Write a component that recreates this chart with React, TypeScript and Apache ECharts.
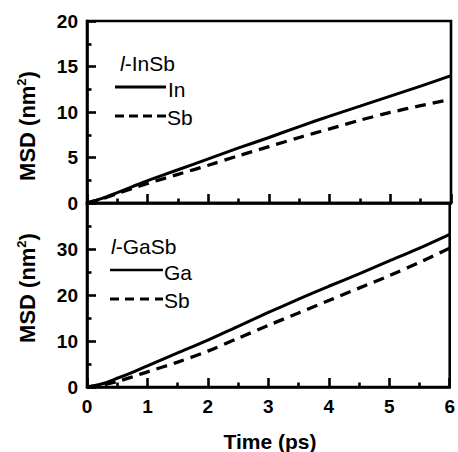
import React, { useEffect, useRef } from "react";
import * as echarts from "echarts";

const times = [0, 0.25, 0.5, 0.75, 1, 1.5, 2, 2.5, 3, 3.5, 4, 4.5, 5, 5.5, 6];
const inSbIn = [0, 0.5, 1.15, 1.8, 2.45, 3.65, 4.85, 6.05, 7.2, 8.4, 9.55, 10.65, 11.75, 12.85, 14.0];
const inSbSb = [0, 0.45, 1.05, 1.6, 2.15, 3.15, 4.15, 5.2, 6.2, 7.2, 8.15, 9.1, 9.95, 10.7, 11.4];
const gaSbGa = [0, 0.7, 1.9, 3.2, 4.6, 7.4, 10.2, 13.2, 16.2, 19.1, 21.9, 24.6, 27.4, 30.2, 33.2];
const gaSbSb = [0, 0.4, 1.2, 2.2, 3.3, 5.4, 7.8, 10.6, 13.4, 16.1, 18.8, 21.5, 24.2, 27.1, 30.2];

const xTicks = { min: 0, max: 6, interval: 1 };
const topY = { min: 0, max: 20, interval: 5 };
const botY = { min: 0, max: 40, interval: 10 };

const FONT = "'Liberation Sans', Arial, Helvetica, sans-serif";

const pairs = (ys: number[]) => times.map((t, i) => [t, ys[i]]);

export default function App() {
  const ref = useRef<HTMLDivElement>(null);
  useEffect(() => {
    if (!ref.current) return;
    const chart = echarts.init(ref.current, null, { renderer: "svg" });
    const axisLine = { show: true, lineStyle: { color: "#000", width: 2.6 } };
    const tick = { show: true, inside: true, length: 9, lineStyle: { color: "#000", width: 2.6 } };
    const minor = { show: true, splitNumber: 2, length: 4.5, lineStyle: { color: "#000", width: 2.6 } };
    const label = { color: "#000", fontFamily: FONT, fontWeight: "bold" as const, fontSize: 19 };
    const lineStyleSolid = { color: "#000", width: 3, type: "solid" as const };
    const lineStyleDash = { color: "#000", width: 3.3, type: [11, 7] as any };
    const grid = { show: true, borderColor: "#000", borderWidth: 2.6, backgroundColor: "transparent" };
    const legendText = { fontFamily: FONT, fontSize: 21, fill: "#000", align: "left", verticalAlign: "middle" };
    const yTitle = (y: number) => ({
      type: "text", x: 27, y, rotation: Math.PI / 2,
      style: {
        text: "MSD (nm{sup|2})", fontFamily: FONT, fontWeight: "bold", fontSize: 22, fill: "#000",
        align: "center", verticalAlign: "middle",
        rich: { sup: { fontFamily: FONT, fontWeight: "bold", fontSize: 13, verticalAlign: "top", padding: [0, 0, 11, 0], fill: "#000" } },
      },
    });

    const option: any = {
      animation: false,
      backgroundColor: "#fff",
      grid: [
        { ...grid, left: 87, top: 21, width: 364, height: 182 },
        { ...grid, left: 87, top: 203, width: 364, height: 184 },
      ],
      xAxis: [
        {
          gridIndex: 0, type: "value", ...xTicks,
          axisLine, axisTick: tick, minorTick: minor,
          axisLabel: { show: false }, splitLine: { show: false },
        },
        {
          gridIndex: 1, type: "value", ...xTicks,
          axisLine, axisTick: tick, minorTick: minor,
          axisLabel: { ...label, margin: 10 }, splitLine: { show: false },
        },
      ],
      yAxis: [
        {
          gridIndex: 0, type: "value", ...topY,
          axisLine, axisTick: tick, minorTick: minor,
          axisLabel: { ...label, margin: 9 }, splitLine: { show: false },
        },
        {
          gridIndex: 1, type: "value", ...botY,
          axisLine, axisTick: tick, minorTick: minor,
          axisLabel: { ...label, margin: 9, formatter: (v: number) => (v === botY.max ? "" : String(v)) },
          splitLine: { show: false },
        },
      ],
      series: [
        { name: "In", type: "line", xAxisIndex: 0, yAxisIndex: 0, data: pairs(inSbIn), showSymbol: false, smooth: 0.3, lineStyle: lineStyleSolid },
        { name: "Sb", type: "line", xAxisIndex: 0, yAxisIndex: 0, data: pairs(inSbSb), showSymbol: false, smooth: 0.3, lineStyle: lineStyleDash },
        { name: "Ga", type: "line", xAxisIndex: 1, yAxisIndex: 1, data: pairs(gaSbGa), showSymbol: false, smooth: 0.3, lineStyle: lineStyleSolid },
        { name: "Sb ", type: "line", xAxisIndex: 1, yAxisIndex: 1, data: pairs(gaSbSb), showSymbol: false, smooth: 0.3, lineStyle: lineStyleDash },
      ],
      graphic: [
        yTitle(126),
        yTitle(288),
        {
          type: "text", x: 270, y: 441,
          style: { text: "Time (ps)", fontFamily: FONT, fontWeight: "bold", fontSize: 21, fill: "#000", align: "center", verticalAlign: "middle" },
        },
        // top legend
        {
          type: "text", x: 120, y: 63,
          style: {
            ...legendText, text: "{i|l}-InSb",
            rich: { i: { fontFamily: FONT, fontStyle: "italic", fontSize: 21, fill: "#000" } },
          },
        },
        { type: "line", shape: { x1: 115, y1: 87, x2: 166, y2: 87 }, style: { stroke: "#000", lineWidth: 3.2 } },
        { type: "text", x: 168, y: 89, style: { ...legendText, text: "In" } },
        { type: "line", shape: { x1: 115, y1: 116, x2: 166, y2: 116 }, style: { stroke: "#000", lineWidth: 3.2, lineDash: [9, 5] } },
        { type: "text", x: 167, y: 117, style: { ...legendText, text: "Sb" } },
        // bottom legend
        {
          type: "text", x: 111, y: 246,
          style: {
            ...legendText, text: "{i|l}-GaSb",
            rich: { i: { fontFamily: FONT, fontStyle: "italic", fontSize: 21, fill: "#000" } },
          },
        },
        { type: "line", shape: { x1: 110, y1: 270, x2: 163, y2: 270 }, style: { stroke: "#000", lineWidth: 2.7 } },
        { type: "text", x: 164, y: 272, style: { ...legendText, text: "Ga" } },
        { type: "line", shape: { x1: 110, y1: 299, x2: 163, y2: 299 }, style: { stroke: "#000", lineWidth: 3.2, lineDash: [9, 6] } },
        { type: "text", x: 164, y: 300, style: { ...legendText, text: "Sb" } },
      ],
    };
    chart.setOption(option);
    return () => chart.dispose();
  }, []);
  return <div ref={ref} style={{ position: "fixed", left: 0, top: 0, width: 458, height: 452, background: "#fff" }} />;
}
